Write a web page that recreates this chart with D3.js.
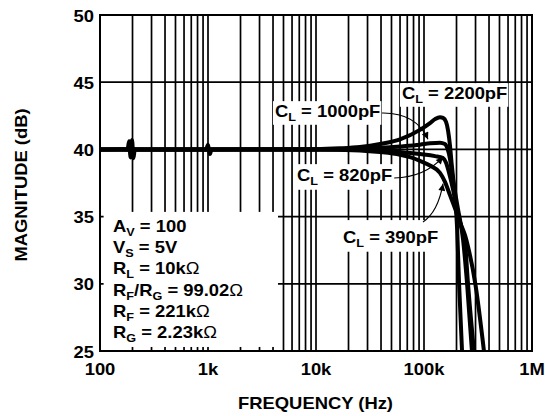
<!DOCTYPE html>
<html><head><meta charset="utf-8">
<script src="https://cdn.jsdelivr.net/npm/d3@7"></script>
<style>
body{margin:0;background:#fff;}
svg text{font-family:"Liberation Sans",Arial,Helvetica,sans-serif;font-weight:bold;fill:#000;}
</style></head><body><svg id="c" width="545" height="416"></svg>
<script>
// ---------- data ----------
const freqTicks = [100, 1e3, 1e4, 1e5, 1e6];
const freqTickLabels = ["100", "1k", "10k", "100k", "1M"];
const dbTicks = [25, 30, 35, 40, 45, 50];

const cl2200 = [[100,40],[150,40.02],[180,40],[186,40.6],[192,39.4],[198,40.7],[204,39.35],[210,40],[600,40],[960,40],[1000,40.35],[1040,39.65],[1080,40],[10000,40.02],[16700,40.08],[25500,40.18],[39100,40.4],[60000,40.75],[91800,41.45],[113600,41.95],[126500,42.25],[140600,42.4],[150000,42.35],[160000,42.05],[167000,41.4],[174000,40.3],[180000,39.0],[186000,37.9],[194000,36.3],[203000,34.0],[211000,30.1],[225000,25]];
const cl1000 = [[100,40],[1000,40],[10000,40],[25500,40.05],[39100,40.12],[60000,40.22],[91800,40.35],[113600,40.45],[140600,40.5],[156000,40.4],[165000,40.05],[174000,39.3],[182000,38.2],[194000,36.8],[206000,35.6],[230000,33.3],[250000,30.1],[278000,25]];
const cl820 = [[100,40],[1000,40],[10000,40],[25500,39.97],[39100,39.9],[60000,39.8],[91800,39.65],[126500,39.5],[150000,39.35],[160000,39.0],[170000,38.3],[186000,37.0],[206000,35.2],[222000,34.2],[240000,33.0],[255000,30.1],[290000,25]];
const cl390 = [[100,40],[1000,40],[10000,40],[25500,39.92],[39100,39.8],[60000,39.6],[74200,39.42],[91800,39.15],[113600,38.8],[140600,38.25],[156000,37.6],[174000,36.6],[194000,35.6],[215000,34.6],[240000,33.6],[255000,32.8],[300000,29.9],[359000,25]];
const seriesList = [cl390, cl820, cl1000, cl2200];

const curveLabels = [
  {parts:["C",["L","sub"]," = 2200pF"], f:62500, db:43.75, pad:[2,1,1,1]},
  {parts:["C",["L","sub"]," = 1000pF"], f:4170,  db:42.41, pad:[2,1,1,1]},
  {parts:["C",["L","sub"]," = 820pF"],  f:6670,  db:37.65, pad:[4,2,4,2]},
  {parts:["C",["L","sub"]," = 390pF"],  f:17800, db:33.04, pad:[4,8,4,2]}
];
const arrows = [
  {from:[40800,42.71], ctrl:[84000,42.75], to:[108900,40.75]},
  {from:[53000,37.87], ctrl:[102000,37.95], to:[150000,39.43]},
  {from:[97900,34.6],  ctrl:[134800,35.34], to:[150000,37.45]}
];
const conditionLines = [
  ["A",["V","sub"]," = 100"],
  ["V",["S","sub"]," = 5V"],
  ["R",["L","sub"]," = 10k",["Ω","om"]],
  ["R",["F","sub"],"/R",["G","sub"]," = 99.02",["Ω","om"]],
  ["R",["F","sub"]," = 221k",["Ω","om"]],
  ["R",["G","sub"]," = 2.23k",["Ω","om"]]
];
const conditionAnchor = {f:132, db:33.85};
const conditionBox = {f0:108, f1:4450, db0:25.3, db1:35.35};

// ---------- setup ----------
const svg = d3.select("#c");
const x = d3.scaleLog().domain([100, 1e6]).range([100, 532]);
const y = d3.scaleLinear().domain([25, 50]).range([351, 15]);
const SX = 1.15;

const gGrid = svg.append("g");
const gBoxes = svg.append("g");
const gCurves = svg.append("g");
const gText = svg.append("g");
const gFrame = svg.append("g");

const defs = svg.append("defs");
defs.append("clipPath").attr("id","plotclip").append("rect")
  .attr("x", x(100)).attr("y", y(50)).attr("width", x(1e6)-x(100)).attr("height", y(25)-y(50));
defs.append("marker").attr("id","arr").attr("viewBox","0 0 10 10").attr("refX",10).attr("refY",5)
  .attr("markerWidth",9).attr("markerHeight",7).attr("markerUnits","userSpaceOnUse").attr("orient","auto")
  .append("path").attr("d","M0,0 L10,5 L0,10 Z").attr("fill","#000");

// grid
gGrid.selectAll("line.v").data(x.ticks()).join("line").attr("class","v")
  .attr("x1", d=>x(d)).attr("x2", d=>x(d)).attr("y1", y(50)).attr("y2", y(25))
  .attr("stroke","#000").attr("stroke-width",1.7);
gGrid.selectAll("line.h").data(dbTicks).join("line").attr("class","h")
  .attr("x1", x(100)).attr("x2", x(1e6)).attr("y1", d=>y(d)).attr("y2", d=>y(d))
  .attr("stroke","#000").attr("stroke-width",1.7);

// rich text helper
function richText(parent, px, py, parts, opt={}){
  const wrap = parent.append("g");
  const g = wrap.append("g").attr("transform", `translate(${px},${py})` + (opt.rotate ? ` rotate(${opt.rotate})` : "") + ` scale(${SX},1)`);
  const t = g.append("text").attr("font-size", opt.size || 16).attr("text-anchor", opt.anchor || "start");
  let shifted = false;
  parts.forEach(p => {
    const [s, kind] = typeof p === "string" ? [p, "n"] : p;
    const ts = t.append("tspan").text(s);
    if (kind === "sub") { ts.attr("font-size", 11).attr("dy", shifted ? 0 : 4); shifted = true; }
    else {
      if (shifted) { ts.attr("dy", -4); shifted = false; }
      if (kind === "om") ts.attr("font-weight", "normal");
    }
  });
  return wrap;
}

// condition box
gBoxes.append("rect").attr("x", x(conditionBox.f0)).attr("y", y(conditionBox.db1))
  .attr("width", x(conditionBox.f1)-x(conditionBox.f0)).attr("height", y(conditionBox.db0)-y(conditionBox.db1))
  .attr("fill","#fff");
conditionLines.forEach((parts,i) => {
  richText(gText, x(conditionAnchor.f), y(conditionAnchor.db) + i*21.2, parts);
});

// curve labels with white boxes
curveLabels.forEach(l => {
  const w = richText(gText, x(l.f), y(l.db), l.parts);
  const b = w.node().getBBox();
  const [pl, pt, pr, pb] = l.pad;
  gBoxes.append("rect").attr("x", b.x-pl).attr("y", b.y-pt).attr("width", b.width+pl+pr).attr("height", b.height+pt+pb).attr("fill","#fff");
});

// curves
const line = d3.line().x(d=>x(d[0])).y(d=>y(d[1])).curve(d3.curveMonotoneX);
gCurves.attr("clip-path","url(#plotclip)").selectAll("path").data(seriesList).join("path")
  .attr("d", line).attr("fill","none").attr("stroke","#000").attr("stroke-width",4)
  .attr("stroke-linejoin","round").attr("stroke-linecap","butt");

// arrows
gText.selectAll("path.arrow").data(arrows).join("path").attr("class","arrow")
  .attr("d", a => `M${x(a.from[0])},${y(a.from[1])} Q${x(a.ctrl[0])},${y(a.ctrl[1])} ${x(a.to[0])},${y(a.to[1])}`)
  .attr("fill","none").attr("stroke","#000").attr("stroke-width",1.1).attr("marker-end","url(#arr)");

// frame
gFrame.append("rect").attr("x", x(100)).attr("y", y(50)).attr("width", x(1e6)-x(100)).attr("height", y(25)-y(50))
  .attr("fill","none").attr("stroke","#000").attr("stroke-width",2);

// tick labels
dbTicks.forEach(d => richText(gText, 94, y(d)+6.5, [String(d)], {anchor:"end"}));
freqTicks.forEach((f,i) => richText(gText, x(f), 375, [freqTickLabels[i]], {anchor:"middle"}));

// axis titles
richText(gText, 315.5, 409, ["FREQUENCY (Hz)"], {anchor:"middle"});
richText(gText, 27, 185, ["MAGNITUDE (dB)"], {anchor:"middle", rotate:-90});
</script></body></html>
